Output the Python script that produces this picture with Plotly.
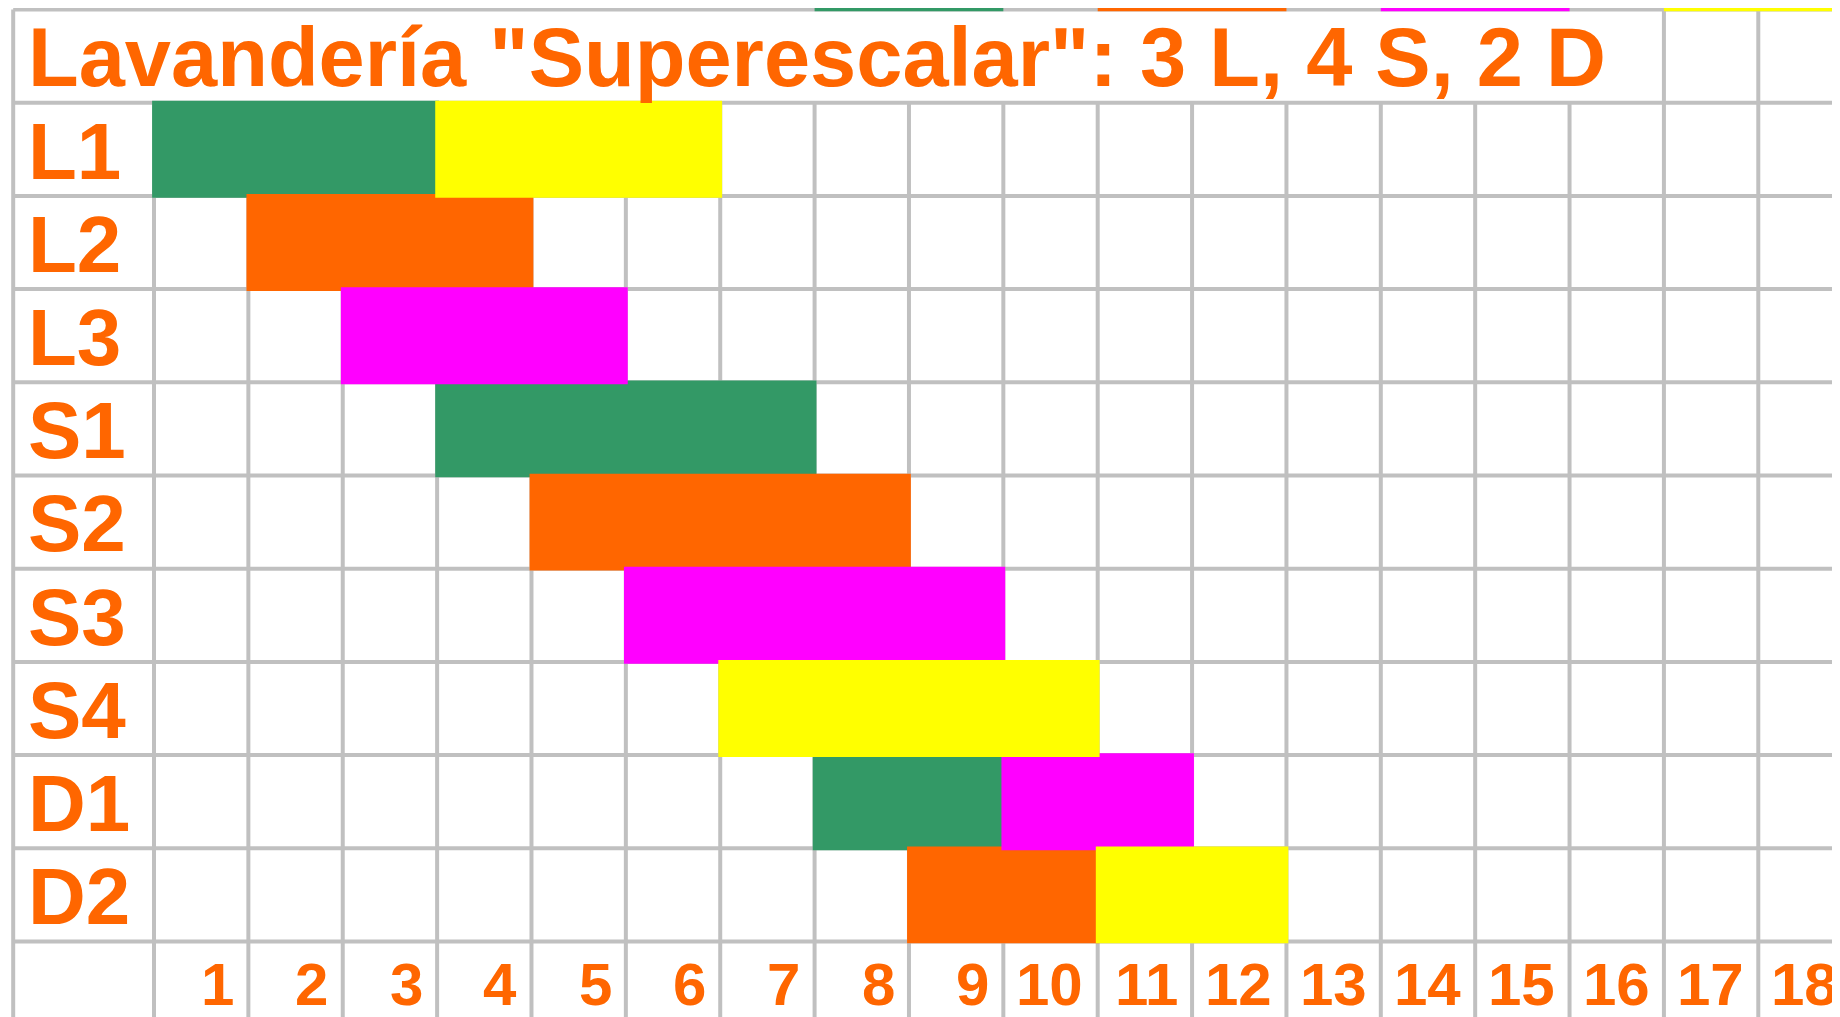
import plotly.graph_objects as go

# ---------------- data ----------------
title_text = 'Lavandería "Superescalar": 3 L, 4 S, 2 D'
row_labels = ["L1", "L2", "L3", "S1", "S2", "S3", "S4", "D1", "D2"]
col_labels = [str(c) for c in range(1, 19)]

load_colors = {"A": "#339966", "B": "#FF6600", "C": "#FF00FF", "D": "#FFFF00"}

# each task: row, first cycle, last cycle, load
task_row = ["L1", "L1", "L2", "L3", "S1", "S2", "S3", "S4", "D1", "D1", "D2", "D2"]
task_first = [1, 4, 2, 3, 4, 5, 6, 7, 8, 10, 9, 11]
task_last = [3, 6, 4, 5, 7, 8, 9, 10, 9, 11, 10, 12]
task_load = ["A", "D", "B", "C", "A", "B", "C", "D", "A", "C", "B", "D"]

# thin coloured strip visible on the top border
strip_first = [8, 11, 14, 17]
strip_last = [9, 12, 15, 18]
strip_load = ["A", "B", "C", "D"]

merged_title_cols = 16  # title cell spans label column + cycles 1..16

# ---------------- styling / geometry ----------------
ORANGE = "#FF6600"
GRID = "#C0C0C0"
FONT = "Liberation Sans, Arial, sans-serif"
LEFT_BORDER = -1.492
n_rows = len(row_labels)
n_cols = len(col_labels)

PAGE_OFF = 8               # default body margin of the html page
W, H = 1840 - PAGE_OFF, 1100
X0_PX, XU = 154.0, 94.37   # screen px of cycle boundary 0, px per cycle
Y0_PX, YU = 9.5, 93.2      # screen px of top border, px per row

fig = go.Figure()

# bars, one trace per load
for load, color in load_colors.items():
    ys, bases, lens = [], [], []
    for r, s, e, l in zip(task_row, task_first, task_last, task_load):
        if l != load:
            continue
        ri = row_labels.index(r) + 1
        ys.append(ri + 0.5)
        bases.append(s - 1 - 0.02)
        lens.append(e - s + 1 + 0.04)
    fig.add_trace(go.Bar(orientation="h", y=ys, x=lens, base=bases, width=1.04,
                         marker=dict(color=color, line=dict(width=0)),
                         showlegend=False, hoverinfo="skip"))

# top strip
for s, e, l in zip(strip_first, strip_last, strip_load):
    fig.add_trace(go.Bar(orientation="h", y=[0], x=[e - s + 1], base=[s - 1], width=0.035,
                         marker=dict(color=load_colors[l], line=dict(width=0)),
                         showlegend=False, hoverinfo="skip"))

# grid
shapes = []
line = dict(color=GRID, width=4)
for r in range(0, n_rows + 2):
    shapes.append(dict(type="line", layer="below", x0=LEFT_BORDER, x1=n_cols + 0.5,
                       y0=r, y1=r, line=line))
shapes.append(dict(type="line", layer="below", x0=LEFT_BORDER, x1=LEFT_BORDER,
                   y0=0, y1=n_rows + 2, line=line))
for c in range(0, n_cols + 1):
    y0 = 0 if c >= merged_title_cols else 1
    shapes.append(dict(type="line", layer="below", x0=c, x1=c,
                       y0=y0, y1=n_rows + 2, line=line))

annotations = []
annotations.append(dict(x=-1.354, y=0.52, xref="x", yref="y", text=title_text,
                        showarrow=False, xanchor="left", yanchor="middle",
                        font=dict(family=FONT, size=83, color=ORANGE, weight="bold")))
for i, lab in enumerate(row_labels):
    annotations.append(dict(x=-1.354, y=i + 1.52, xref="x", yref="y", text=lab,
                            showarrow=False, xanchor="left", yanchor="middle",
                            font=dict(family=FONT, size=80, color=ORANGE, weight="bold")))
# cycle numbers: anchored at the cell centre, right-aligned near the cell's right edge
for k, lab in enumerate(col_labels, start=1):
    annotations.append(dict(x=k - 0.5, y=n_rows + 1.456, xref="x", yref="y", text=lab,
                            showarrow=False, xanchor="right", yanchor="middle",
                            xshift=0.37 * XU,
                            font=dict(family=FONT, size=60, color=ORANGE, weight="bold")))

fig.update_layout(
    width=W, height=H,
    margin=dict(l=0, r=0, t=0, b=0),
    paper_bgcolor="white", plot_bgcolor="white",
    barmode="overlay",
    xaxis=dict(range=[(PAGE_OFF - X0_PX) / XU, (W + PAGE_OFF - X0_PX) / XU],
               visible=False, fixedrange=True),
    yaxis=dict(range=[(H + PAGE_OFF - Y0_PX) / YU, (PAGE_OFF - Y0_PX) / YU],
               visible=False, fixedrange=True),
    shapes=shapes,
    annotations=annotations,
)

fig.write_html("out.html")
